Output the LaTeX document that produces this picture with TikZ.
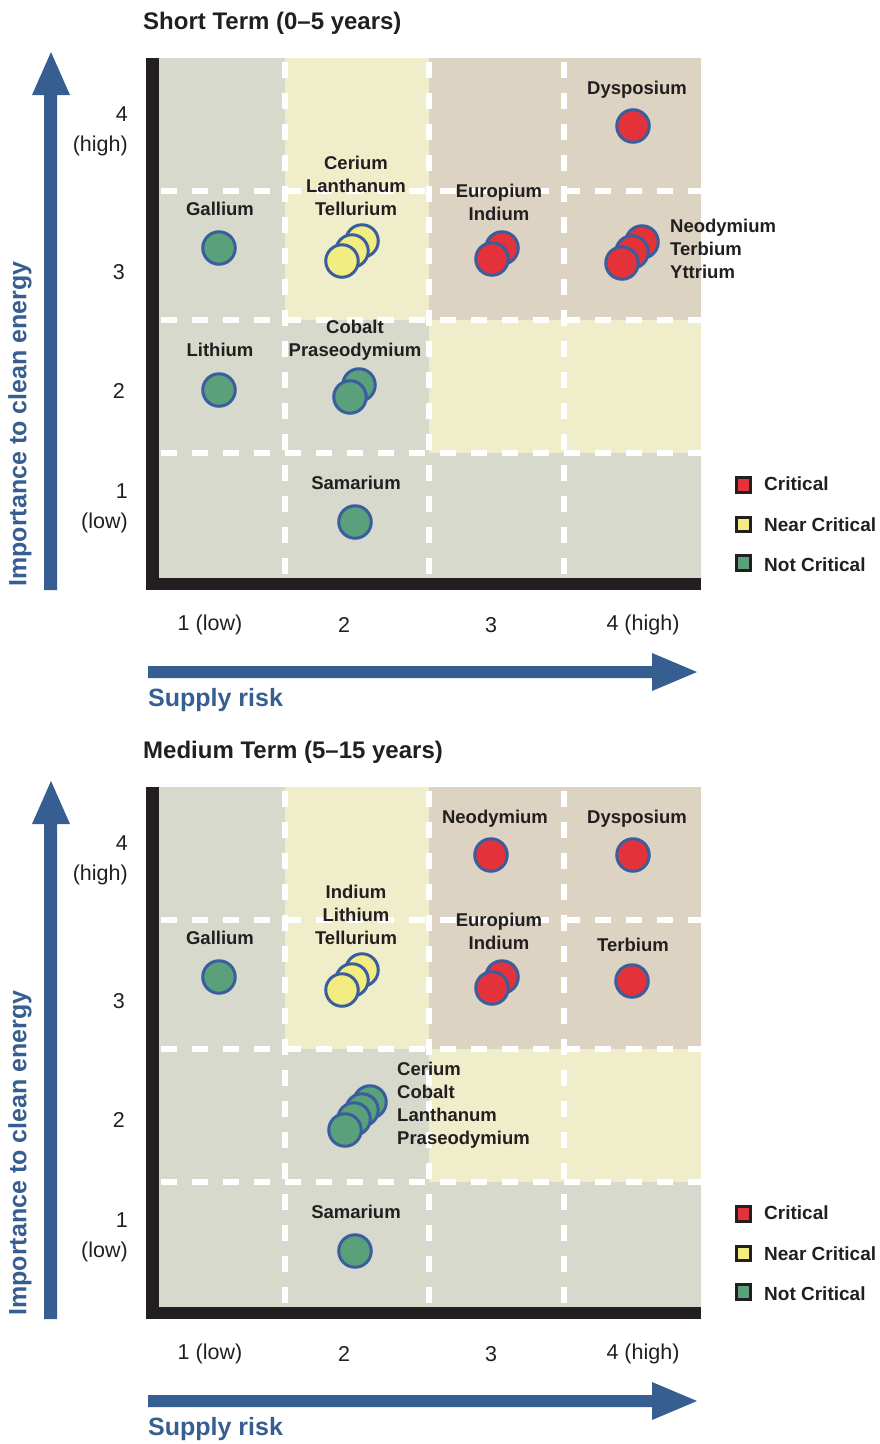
\documentclass[tikz,border=0pt]{standalone}
\usepackage{fontspec}
\setmainfont{Liberation Sans}

\definecolor{cellgrey}{RGB}{214,217,203}
\definecolor{cellyellow}{RGB}{240,237,203}
\definecolor{celltan}{RGB}{220,211,195}
\definecolor{arrowblue}{RGB}{55,94,145}
\definecolor{ringblue}{RGB}{58,93,158}
\definecolor{redfill}{RGB}{228,50,58}
\definecolor{yellowfill}{RGB}{243,236,128}
\definecolor{greenfill}{RGB}{90,160,122}
\definecolor{inkdark}{RGB}{35,31,32}

\begin{document}
\begin{tikzpicture}[x=1pt,y=-1pt,
  element/.style={circle,draw=ringblue,line width=3pt,minimum size=32.5pt,inner sep=0pt},
  critical/.style={element,fill=redfill},
  nearcrit/.style={element,fill=yellowfill},
  notcrit/.style={element,fill=greenfill},
  elname/.style={text=inkdark,align=center,inner sep=0pt,font=\fontsize{18.5}{23}\selectfont\bfseries},
  legtext/.style={text=inkdark,anchor=west,inner sep=0pt,font=\fontsize{19}{23}\selectfont\bfseries},
  ticklabel/.style={text=inkdark,inner sep=0pt,font=\fontsize{21.5}{30}\selectfont},
  axislabel/.style={text=arrowblue,inner sep=0pt,font=\fontsize{25}{30}\selectfont\bfseries},
  gridline/.style={white,line width=5.5pt,dash pattern=on 16pt off 15pt},
  legbox/.style={draw=inkdark,line width=2.8pt,minimum size=14.5pt,inner sep=0pt}]
\useasboundingbox (0,0) rectangle (880,1444);

% one panel: cells, axes, ticks and legend
\def\panel#1#2{%
  \fill[cellgrey] (159,58) rectangle (701,578);
  \fill[cellyellow] (285,58) rectangle (429,320);
  \fill[celltan] (429,58) rectangle (701,320);
  \fill[cellyellow] (429,320) rectangle (701,453);
  \foreach \gx in {285,429,564} {\draw[gridline] (\gx,62) -- (\gx,578);}
  \foreach \gy in {191,320,453} {\draw[gridline] (161,\gy) -- (701,\gy);}
  \fill[inkdark] (146,58) rectangle (159,590);
  \fill[inkdark] (146,578) rectangle (701,590);
  \fill[arrowblue] (44,590) -- (44,95) -- (32,95) -- (51,52) -- (70,95) -- (57,95) -- (57,590) -- cycle;
  \fill[arrowblue] (148,666) -- (652,666) -- (652,653) -- (697,672) -- (652,691) -- (652,678) -- (148,678) -- cycle;
  \node[text=inkdark,anchor=west,inner sep=0pt,font=\fontsize{24}{28}\selectfont\bfseries] (#1title) at (143,23) {#2};
  \node[axislabel,rotate=90] (#1ylab) at (20,424) {Importance to clean energy};
  \node[axislabel,anchor=west] (#1xlab) at (148,700) {Supply risk};
  \node[ticklabel,align=right,anchor=east] (#1yfour) at (128,131) {4\\(high)};
  \node[ticklabel,anchor=east] (#1ythree) at (125,272) {3};
  \node[ticklabel,anchor=east] (#1ytwo) at (125,391) {2};
  \node[ticklabel,align=right,anchor=east] (#1yone) at (128,508) {1\\(low)};
  \node[ticklabel] (#1xone) at (210,625) {1 (low)};
  \node[ticklabel] (#1xtwo) at (344,625) {2};
  \node[ticklabel] (#1xthree) at (491,625) {3};
  \node[ticklabel] (#1xfour) at (643,625) {4 (high)};
  \node[legbox,fill=redfill] (#1lcrit) at (743.5,485) {};
  \node[legtext] (#1lcrittext) at (764,484) {Critical};
  \node[legbox,fill=yellowfill] (#1lnear) at (743.5,524.5) {};
  \node[legtext] (#1lneartext) at (764,525) {Near Critical};
  \node[legbox,fill=greenfill] (#1lnot) at (743.5,563) {};
  \node[legtext] (#1lnottext) at (764,565) {Not Critical};
}

\begin{scope}
\panel{s}{Short Term (0--5 years)}
\node[elname] (sgallab) at (220,209) {Gallium};
\node[notcrit] (sgal) at (219,248) {};
\node[elname] (sceltlab) at (356,186) {Cerium\\Lanthanum\\Tellurium};
\node[nearcrit] (scelta) at (362,241) {};
\node[nearcrit] (sceltb) at (352,251) {};
\node[nearcrit] (sceltc) at (342,261) {};
\node[elname] (seuinlab) at (499,202) {Europium\\Indium};
\node[critical] (seuina) at (502,248) {};
\node[critical] (seuinb) at (492,259) {};
\node[elname] (sdyslab) at (637,90) {Dysposium};
\node[critical] (sdys) at (633,126) {};
\node[elname,align=left,anchor=west] (sntylab) at (670,248.5) {Neodymium\\Terbium\\Yttrium};
\node[critical] (sntya) at (642,242) {};
\node[critical] (sntyb) at (632,252) {};
\node[critical] (sntyc) at (622,263) {};
\node[elname] (slilab) at (220,350) {Lithium};
\node[notcrit] (sli) at (219,390) {};
\node[elname] (scoprlab) at (355,340) {Cobalt\\Praseodymium};
\node[notcrit] (scopra) at (359,385) {};
\node[notcrit] (scoprb) at (350,397) {};
\node[elname] (ssmlab) at (356,483) {Samarium};
\node[notcrit] (ssm) at (355,522) {};
\end{scope}

\begin{scope}[yshift=-729pt]
\panel{m}{Medium Term (5--15 years)}
\node[elname] (mndlab) at (495,90) {Neodymium};
\node[critical] (mnd) at (491,126) {};
\node[elname] (mdyslab) at (637,90) {Dysposium};
\node[critical] (mdys) at (633,126) {};
\node[elname] (mgallab) at (220,209) {Gallium};
\node[notcrit] (mgal) at (219,248) {};
\node[elname] (minlitelab) at (356,186) {Indium\\Lithium\\Tellurium};
\node[nearcrit] (minlitea) at (362,241) {};
\node[nearcrit] (minliteb) at (352,251) {};
\node[nearcrit] (minlitec) at (342,261) {};
\node[elname] (meuinlab) at (499,202) {Europium\\Indium};
\node[critical] (meuina) at (502,248) {};
\node[critical] (meuinb) at (492,259) {};
\node[elname] (mtblab) at (633,216) {Terbium};
\node[critical] (mtb) at (632,252) {};
\node[elname,align=left,anchor=west] (mcecolaprlab) at (397,376.5) {Cerium\\Cobalt\\Lanthanum\\Praseodymium};
\node[notcrit] (mcecolapra) at (370,373) {};
\node[notcrit] (mcecolaprb) at (362,381) {};
\node[notcrit] (mcecolaprc) at (354,390) {};
\node[notcrit] (mcecolaprd) at (345,401) {};
\node[elname] (msmlab) at (356,483) {Samarium};
\node[notcrit] (msm) at (355,522) {};
\end{scope}
\end{tikzpicture}
\end{document}
